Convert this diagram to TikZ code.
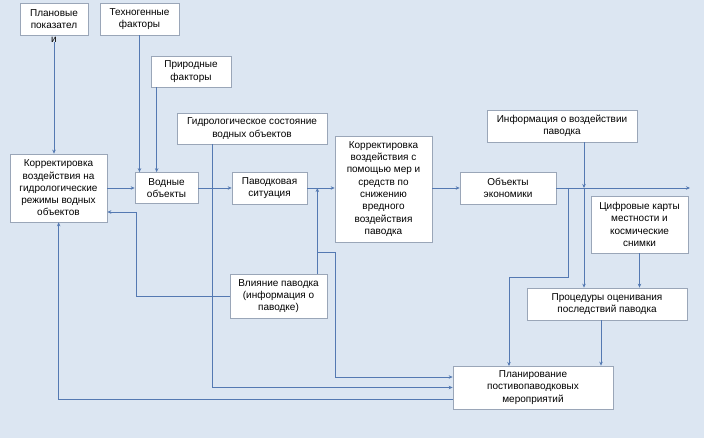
\documentclass[tikz,border=0pt]{standalone}
\usepackage{fontspec}
\setmainfont{Liberation Sans}
\usepackage{tikz}
\usetikzlibrary{arrows.meta,positioning,calc}
\definecolor{fbg}{HTML}{DCE6F2}
\definecolor{fline}{HTML}{5479B2}
\definecolor{fedge}{HTML}{9AA6B8}
\tikzset{
  blk/.style={draw=fedge,fill=white,line width=0.7pt,align=center,inner sep=2pt,font=\fontsize{10}{12.3}\selectfont},
  arr/.style={-{Stealth[length=4pt,width=3.5pt]},line width=0.8pt,draw=fline},
}
\begin{document}
\begin{tikzpicture}[x=1pt,y=-1pt]
  \fill[fbg] (0,0) rectangle (704,438);
  \useasboundingbox (0,0) rectangle (704,438);
  % blocks
  \node[blk,minimum width=68,minimum height=32] (plan) at (54,19) {Плановые\\показател};
  \node[font=\fontsize{10}{12}\selectfont,inner sep=0pt] (planI) at (54,39.5) {и};
  \node[blk,minimum width=79,minimum height=32] (tech) at (139.5,19) {Техногенные\\факторы};
  \node[blk,minimum width=80,minimum height=31] (nat) at (191,71.5) {Природные\\факторы};
  \node[blk,minimum width=150,minimum height=31] (hydro) at (252,128.5) {Гидрологическое состояние\\водных объектов};
  \node[blk,minimum width=97,minimum height=68] (corr1) at (58.5,188) {Корректировка\\воздействия на\\гидрологические\\режимы водных\\объектов};
  \node[blk,minimum width=63,minimum height=31] (water) at (166.5,188) {Водные\\объекты};
  \node[blk,minimum width=75,minimum height=32] (flood) at (269.5,188) {Паводковая\\ситуация};
  \node[blk,minimum width=97,minimum height=106] (corr2) at (383.5,189) {Корректировка\\воздействия с\\помощью мер и\\средств по\\снижению\\вредного\\воздействия\\паводка};
  \node[blk,minimum width=96,minimum height=32] (econ) at (508,188) {Объекты\\экономики};
  \node[blk,minimum width=150,minimum height=32] (info) at (562,126) {Информация о воздействии\\паводка};
  \node[blk,minimum width=97,minimum height=57] (maps) at (639.5,224.5) {Цифровые карты\\местности и\\космические\\снимки};
  \node[blk,minimum width=160,minimum height=32] (proc) at (607,304) {Процедуры оценивания\\последствий паводка};
  \node[blk,minimum width=97,minimum height=44] (infl) at (278.5,296) {Влияние паводка\\(информация о\\паводке)};
  \node[blk,minimum width=160,minimum height=43] (plan2) at (533,387.5) {Планирование\\постивопаводковых\\мероприятий};
  % helper points
  \coordinate (nx) at ($(nat.south west)+(6,0)$);
  \coordinate (hx) at ($(hydro.south west)+(36,0)$);
  \coordinate (vx) at ($(infl.north east)+(-10,0)$);
  \coordinate (br) at (vx |- 0,252);
  \coordinate (fb) at (136,212);
  \coordinate (cx) at ($(corr1.south west)+(49,0)$);
  \coordinate (ix) at ($(info.south)+(22,0)$);
  \coordinate (ex) at ($(econ.east)+(12,0)$);
  \coordinate (px) at ($(proc.south)+(-6,0)$);
  \coordinate (out) at (690,188);
  % connectors
  \draw[arr] (planI) -- (planI |- corr1.north);
  \draw[arr] (tech.south) -- (tech.south |- water.north);
  \draw[arr] (nx) -- (nx |- water.north);
  \draw[arr] (corr1.east) -- (water.west);
  \draw[arr] (water.east) -- (flood.west);
  \draw[arr] (flood.east) -- (flood.east -| corr2.west);
  \draw[arr] (econ.west -| corr2.east) -- (econ.west);
  \draw[arr] (econ.east) -- (out);
  \draw[arr] (hx) |- (plan2.west);
  \draw[arr] (vx) -- (vx |- flood.east);
  \draw[arr] (br) -- (335,252) |- ([yshift=10.5]plan2.west);
  \draw[arr] (infl.west) -| (fb) -- (fb -| corr1.east);
  \draw[arr] ([yshift=-11.5]plan2.west) -| (cx);
  \draw[arr] (ix) -- (ix |- econ.east);
  \draw[arr] (ix |- econ.east) -- (ix |- proc.north);
  \draw[arr] (maps.south) -- (maps.south |- proc.north);
  \draw[arr] (ex) |- (509,277) -- (509,366);
  \draw[arr] (px) -- (px |- plan2.north);
\end{tikzpicture}
\end{document}
